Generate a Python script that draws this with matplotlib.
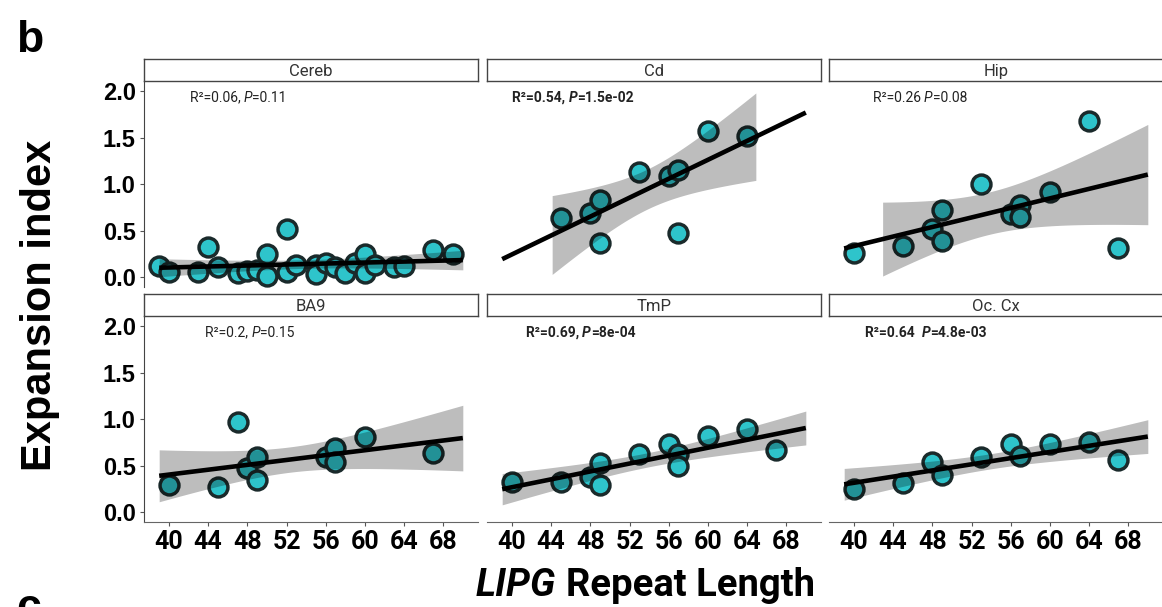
import numpy as np
import matplotlib.pyplot as plt

# 各脑区的数据
regions = ['Cereb', 'Cd', 'Hip', 'BA9', 'TmP', 'Oc. Cx']

cereb_x = [39, 40, 43, 44, 45, 47, 48, 49, 50, 50, 52, 52, 53, 55, 55, 56, 57, 58, 59, 60, 60, 61, 63, 64, 67, 69]
cereb_y = [0.12, 0.06, 0.06, 0.32, 0.11, 0.05, 0.07, 0.08, 0.25, 0.01, 0.52, 0.06, 0.13, 0.13, 0.04, 0.15,
           0.11, 0.05, 0.15, 0.25, 0.05, 0.13, 0.11, 0.12, 0.29, 0.25]

cd_x = [45, 48, 49, 49, 53, 56, 57, 57, 60, 64]
cd_y = [0.64, 0.69, 0.83, 0.37, 1.13, 1.09, 1.15, 0.48, 1.57, 1.52]

hip_x = [40, 45, 48, 49, 49, 53, 56, 57, 57, 60, 64, 67]
hip_y = [0.26, 0.34, 0.52, 0.72, 0.39, 1.00, 0.68, 0.78, 0.65, 0.92, 1.68, 0.31]

ba9_x = [40, 45, 47, 48, 49, 49, 56, 57, 57, 60, 67]
ba9_y = [0.29, 0.27, 0.97, 0.48, 0.59, 0.35, 0.59, 0.69, 0.54, 0.81, 0.64]

tmp_x = [40, 45, 48, 49, 49, 53, 56, 57, 57, 60, 64, 67]
tmp_y = [0.33, 0.32, 0.38, 0.53, 0.29, 0.63, 0.73, 0.63, 0.50, 0.82, 0.90, 0.67]

occx_x = [40, 45, 48, 49, 53, 56, 57, 60, 64, 67]
occx_y = [0.25, 0.31, 0.54, 0.40, 0.59, 0.73, 0.61, 0.73, 0.75, 0.56]

xs = [cereb_x, cd_x, hip_x, ba9_x, tmp_x, occx_x]
ys = [cereb_y, cd_y, hip_y, ba9_y, tmp_y, occx_y]

# 统计标注: R2 文本, P 值文本, 是否加粗
stat_r2 = ['R\u00b2=0.06, ', 'R\u00b2=0.54, ', 'R\u00b2=0.26 ', 'R\u00b2=0.2, ', 'R\u00b2=0.69, ', 'R\u00b2=0.64  ']
stat_p = ['=0.11', '=1.5e-02', '=0.08', '=0.15', '=8e-04', '=4.8e-03']
stat_bold = [False, True, False, False, True, True]
stat_xpos = [42.1, 40.0, 41.9, 43.7, 41.4, 41.1]

x_ticks = [40, 44, 48, 52, 56, 60, 64, 68]
y_ticks = [0.0, 0.5, 1.0, 1.5, 2.0]

# t 分布 0.975 分位数 (按自由度)
t975 = {8: 2.306, 9: 2.262, 10: 2.228, 24: 2.064}

W, H = 1162, 607
fig = plt.figure(figsize=(W / 100, H / 100), dpi=100)

col_left = [144, 487, 829]
col_w = 334
row_top = [81, 316]
row_h = 206
strip_h = 22

teal = '#2ec4cb'
edge = '#1a2a2b'

for i, name in enumerate(regions):
    r, c = divmod(i, 3)
    x0, y0 = col_left[c], row_top[r]
    ax = fig.add_axes([x0 / W, 1 - (y0 + row_h) / H, col_w / W, row_h / H])
    sax = fig.add_axes([x0 / W, 1 - y0 / H, col_w / W, strip_h / H])

    # 分面标题框
    sax.set_xticks([])
    sax.set_yticks([])
    for sp in sax.spines.values():
        sp.set_color('#444444')
        sp.set_linewidth(1.0)
    sax.text(0.5, 0.45, name, ha='center', va='center', fontsize=12, family='Roboto', color='#333333')

    x = np.array(xs[i], dtype=float)
    y = np.array(ys[i], dtype=float)
    ax.scatter(x, y, s=185, c=teal, edgecolors=edge, linewidths=2.5, zorder=2)

    # 线性回归与 95% 置信带
    n = len(x)
    slope, icpt = np.polyfit(x, y, 1)
    resid = y - (slope * x + icpt)
    s = np.sqrt(np.sum(resid ** 2) / (n - 2))
    sxx = np.sum((x - x.mean()) ** 2)
    grid = np.linspace(39, 70, 80)
    fit = slope * grid + icpt
    se = s * np.sqrt(1 / n + (grid - x.mean()) ** 2 / sxx)
    lo = fit - t975[n - 2] * se
    hi = fit + t975[n - 2] * se
    ok = (lo >= 0) & (hi <= 2)
    ax.fill_between(grid, lo, hi, where=ok, color='black', alpha=0.26, linewidth=0, zorder=3)
    ax.plot(grid, fit, color='black', linewidth=3.3, zorder=4, solid_capstyle='butt')

    # R2 / P 标注
    wt = 'bold' if stat_bold[i] else 'normal'
    t = ax.text(stat_xpos[i], 1.93, stat_r2[i], fontsize=10, fontweight=wt, family='Roboto',
                color='#222222', va='center', ha='left', zorder=5)
    t = ax.annotate('P', xy=(1, 0), xycoords=t, va='bottom', ha='left', fontsize=10, fontweight=wt,
                    fontstyle='italic', family='Roboto', color='#222222')
    ax.annotate(stat_p[i], xy=(1, 0), xycoords=t, va='bottom', ha='left', fontsize=10, fontweight=wt,
                family='Roboto', color='#222222')

    ax.set_xlim(37.45, 71.55)
    ax.set_ylim(-0.105, 2.11)
    for sp in ['top', 'right']:
        ax.spines[sp].set_visible(False)
    ax.spines['left'].set_visible(c == 0)
    ax.spines['bottom'].set_visible(r == 1)
    ax.spines['left'].set_color('#444444')
    ax.spines['bottom'].set_color('#666666')
    ax.set_xticks(x_ticks)
    ax.set_yticks(y_ticks)
    ax.tick_params(length=3, color='#555555', width=0.8, pad=3)
    if r == 1:
        ax.set_xticklabels([str(v) for v in x_ticks], fontsize=18, fontweight='bold', family='Roboto')
    else:
        ax.tick_params(axis='x', bottom=False, labelbottom=False)
    if c == 0:
        ax.set_yticklabels(['%.1f' % v for v in y_ticks], fontsize=17, fontweight='bold', family='Liberation Sans')
    else:
        ax.tick_params(axis='y', left=False, labelleft=False)

# 轴标题
fig.text(40 / W, 1 - 305 / H, 'Expansion index', rotation=90, ha='center', va='center',
         fontsize=30, fontweight='bold', family='Liberation Sans')
fig.text(556 / W, 1 - 596 / H, 'LIPG', ha='right', va='baseline', fontsize=27.5,
         fontweight='bold', fontstyle='italic', family='Roboto')
fig.text(566 / W, 1 - 596 / H, 'Repeat Length', ha='left', va='baseline', fontsize=27.5,
         fontweight='bold', family='Roboto')

# 子图编号 (c 在原图底部被截断)
fig.text(16 / W, 1 - 52 / H, 'b', ha='left', va='baseline', fontsize=32, fontweight='bold', family='Liberation Sans')
fig.text(16 / W, 1 - 620 / H, 'c', ha='left', va='baseline', fontsize=32, fontweight='bold', family='Liberation Sans')

fig.savefig('out.png', dpi=100)
